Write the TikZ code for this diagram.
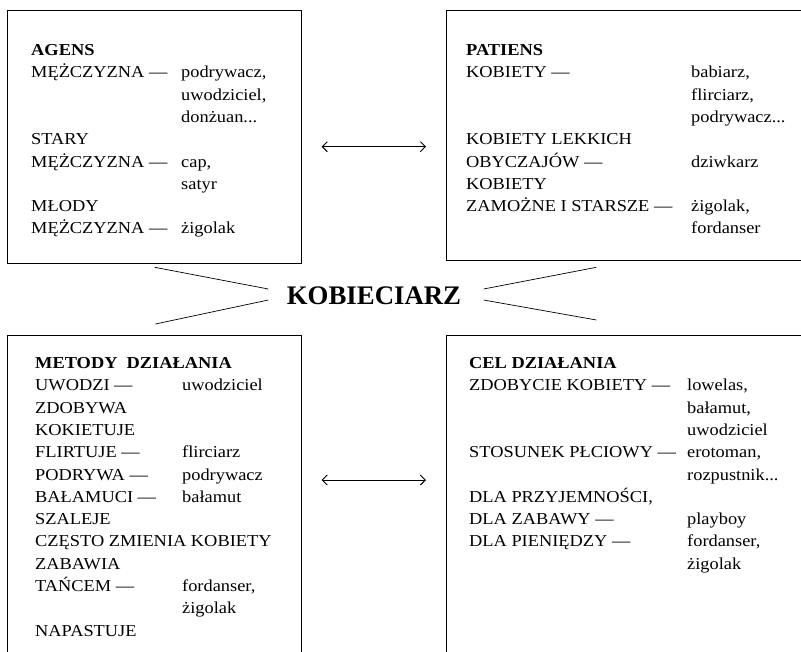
\documentclass[tikz,border=0pt]{standalone}
\usepackage{fontspec}
\setmainfont[FakeStretch=1.1]{Liberation Serif}
\newfontfamily\titlefont{Liberation Serif}
\usetikzlibrary{arrows.meta}

\begin{document}
\begin{tikzpicture}[x=1pt,y=-1pt,
    box/.style={draw,rectangle,line width=1pt,inner sep=0pt,outer sep=0pt},
    txt/.style={anchor=base west,inner sep=0pt,font=\fontsize{16.7}{22.3}\selectfont},
    link/.style={{Straight Barb[length=5pt,width=10pt]}-{Straight Barb[length=5pt,width=10pt]},
      line width=0.9pt,shorten <=20.7pt,shorten >=20pt}]
  \path[use as bounding box] (0,0) rectangle (801,651);
  \clip (0,0) rectangle (801,651);
  \fill[white] (0,0) rectangle (801,651);

  % the four boxes
  \node[box,minimum width=294pt,minimum height=253pt] (agens)   at (154,136.5) {};
  \node[box,minimum width=374pt,minimum height=250pt] (patiens) at (633,135)   {};
  \node[box,minimum width=294pt,minimum height=335pt] (metody)  at (154,502.5) {};
  \node[box,minimum width=374pt,minimum height=335pt] (cel)     at (633,502.5) {};

  \node[txt] (agens_t) at (31,55.5) {\begin{tabular}[t]{@{}p{150pt}@{}l@{}}
    \textbf{AGENS} & \\
    MĘŻCZYZNA --- & podrywacz, \\
     & uwodziciel, \\
     & donżuan... \\
    STARY & \\
    MĘŻCZYZNA --- & cap, \\
     & satyr \\
    MŁODY & \\
    MĘŻCZYZNA --- & żigolak
  \end{tabular}};

  \node[txt] (patiens_t) at (466,55.5) {\begin{tabular}[t]{@{}p{225pt}@{}l@{}}
    \textbf{PATIENS} & \\
    KOBIETY --- & babiarz, \\
     & flirciarz, \\
     & podrywacz... \\
    KOBIETY LEKKICH & \\
    OBYCZAJÓW --- & dziwkarz \\
    KOBIETY & \\
    ZAMOŻNE I STARSZE --- & żigolak, \\
     & fordanser
  \end{tabular}};

  \node[txt] (metody_t) at (35,368.5) {\begin{tabular}[t]{@{}p{147pt}@{}l@{}}
    \multicolumn{2}{@{}l@{}}{\textbf{METODY~~DZIAŁANIA}} \\
    UWODZI --- & uwodziciel \\
    ZDOBYWA & \\
    KOKIETUJE & \\
    FLIRTUJE --- & flirciarz \\
    PODRYWA --- & podrywacz \\
    BAŁAMUCI --- & bałamut \\
    SZALEJE & \\
    \multicolumn{2}{@{}l@{}}{CZĘSTO ZMIENIA KOBIETY} \\
    ZABAWIA & \\
    TAŃCEM --- & fordanser, \\
     & żigolak \\
    NAPASTUJE &
  \end{tabular}};

  \node[txt] (cel_t) at (469,368.5) {\begin{tabular}[t]{@{}p{218pt}@{}l@{}}
    \textbf{CEL DZIAŁANIA} & \\
    ZDOBYCIE KOBIETY --- & lowelas, \\
     & bałamut, \\
     & uwodziciel \\
    STOSUNEK PŁCIOWY --- & erotoman, \\
     & rozpustnik... \\
    DLA PRZYJEMNOŚCI, & \\
    DLA ZABAWY --- & playboy \\
    DLA PIENIĘDZY --- & fordanser, \\
     & żigolak
  \end{tabular}};

  % centre word and its rays
  \node[font=\titlefont\fontsize{26.8}{30}\selectfont\bfseries] (title) at (374,295.5) {KOBIECIARZ};
  \draw[line width=0.7pt] (154.7,267.3) -- (268.3,289)
                          (268.3,300) -- (155.4,324)
                          (483.6,289) -- (596.4,267.3)
                          (483.6,300) -- (596.4,320);

  % arrows between the boxes
  \coordinate (row_1) at (0,146.7);
  \coordinate (row_2) at (0,480);
  \path[link]
    (agens.east |- row_1) edge (patiens.west |- row_1)
    (metody.east |- row_2) edge (cel.west |- row_2);
\end{tikzpicture}
\end{document}
